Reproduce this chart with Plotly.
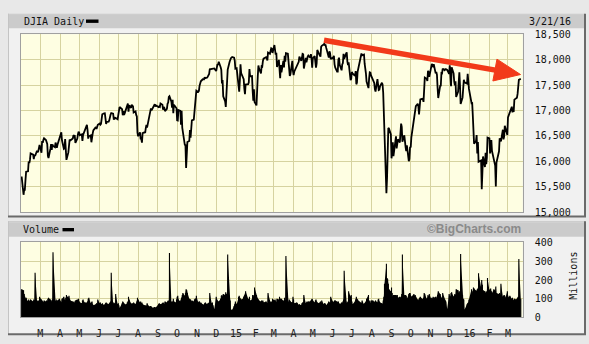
import numpy as np
import pandas as pd
import plotly.graph_objects as go

# ---------------- data ----------------
holidays = ["2014-02-17", "2014-04-18", "2014-05-26", "2014-07-04", "2014-09-01",
            "2014-11-27", "2014-12-25", "2015-01-01", "2015-01-19", "2015-02-16",
            "2015-04-03", "2015-05-25", "2015-07-03", "2015-09-07", "2015-11-26",
            "2015-12-25", "2016-01-01", "2016-01-18", "2016-02-15"]

# DJIA daily level, one sub-list per month (2014: Jan(31st only)..Dec)
price_2014 = [
    [15699],
    [15340, 15445, 15441, 15628, 15794, 15802, 15994, 15964, 16027, 16154, 16130, 16041, 16133, 16104, 16208, 16180, 16198, 16273, 16322],
    [16168, 16396, 16361, 16422, 16453, 16418, 16351, 16340, 16109, 16065, 16247, 16337, 16223, 16332, 16303, 16277, 16368, 16268, 16264, 16324, 16458],
    [16533, 16573, 16572, 16413, 16246, 16257, 16437, 16171, 16027, 16174, 16263, 16425, 16409, 16449, 16515, 16502, 16501, 16361, 16448, 16535, 16581],
    [16558, 16513, 16531, 16402, 16518, 16550, 16583, 16696, 16716, 16614, 16447, 16492, 16511, 16374, 16533, 16543, 16607, 16676, 16633, 16699, 16717],
    [16744, 16722, 16738, 16836, 16924, 16944, 16946, 16843, 16734, 16776, 16781, 16808, 16906, 16921, 16947, 16938, 16818, 16868, 16846, 16851, 16827],
    [16956, 16976, 17068, 17024, 16906, 16985, 16915, 16944, 17055, 17061, 17138, 16976, 17100, 17052, 17114, 17086, 17083, 16961, 16983, 16913, 16881, 16563],
    [16493, 16569, 16430, 16443, 16368, 16554, 16570, 16560, 16651, 16713, 16663, 16839, 16920, 16980, 17040, 17001, 17076, 17107, 17123, 17080, 17098],
    [17067, 17078, 17069, 17138, 17111, 17014, 17068, 17049, 16988, 17031, 17131, 17156, 17266, 17280, 17173, 17056, 17210, 16946, 17113, 17071, 17043],
    [16805, 16801, 17009, 16992, 16720, 16995, 16659, 16544, 16321, 16316, 15870, 16117, 16380, 16400, 16615, 16462, 16677, 16805, 16818, 17006, 16975, 17196, 17391],
    [17366, 17384, 17485, 17555, 17574, 17614, 17615, 17613, 17652, 17635, 17648, 17688, 17686, 17720, 17810, 17818, 17815, 17828, 17828],
    [17776, 17880, 17913, 17901, 17959, 17852, 17801, 17533, 17597, 17280, 17180, 17068, 17356, 17778, 17805, 17959, 18024, 18030, 18053, 18038, 17983, 17823],
]
price_2015 = [
    [17833, 17501, 17371, 17585, 17908, 17737, 17640, 17614, 17427, 17321, 17511, 17516, 17555, 17814, 17673, 17678, 17388, 17192, 17417, 17165],
    [17100, 17666, 17673, 17885, 17825, 17729, 17868, 17863, 17973, 18019, 18048, 18030, 17986, 18141, 18117, 18210, 18225, 18215, 18133],
    [18288, 18203, 18097, 18136, 17857, 17996, 17662, 17635, 17895, 17749, 17977, 17849, 18076, 17959, 18128, 18116, 17977, 17718, 17678, 17713, 17977, 17776],
    [17698, 17763, 17881, 17876, 17903, 17959, 18058, 17977, 18037, 18113, 18106, 17826, 18034, 17950, 18038, 18059, 18080, 18038, 18110, 18036, 17841],
    [18024, 18070, 17928, 17842, 17925, 18191, 18105, 18069, 18060, 18252, 18272, 18299, 18312, 18286, 18285, 18232, 18042, 18163, 18126, 18011],
    [18040, 18011, 18077, 17906, 17849, 17766, 17765, 18000, 18039, 17899, 17791, 17905, 17935, 18115, 18015, 18120, 18144, 17967, 17891, 17947, 17597, 17620],
    [17758, 17731, 17684, 17777, 17515, 17548, 17761, 17978, 18054, 18051, 18121, 18087, 18101, 17920, 17852, 17732, 17569, 17441, 17631, 17751, 17746, 17690],
    [17599, 17551, 17541, 17419, 17373, 17615, 17403, 17402, 17409, 17477, 17546, 17512, 17349, 16991, 16460, 15370, 15666, 16285, 16655, 16643, 16528],
    [16058, 16351, 16375, 16102, 16492, 16254, 16330, 16433, 16371, 16600, 16740, 16675, 16385, 16510, 16330, 16280, 16201, 16315, 16001, 16049, 16285],
    [16272, 16472, 16776, 16790, 16912, 17050, 17084, 17131, 17081, 16924, 17142, 17216, 17230, 17218, 17169, 17489, 17647, 17623, 17581, 17780, 17756, 17664],
    [17829, 17918, 17868, 17863, 17910, 17731, 17758, 17702, 17449, 17245, 17484, 17489, 17738, 17733, 17824, 17792, 17813, 17813, 17798, 17720],
    [17888, 17730, 17478, 17848, 17731, 17568, 17493, 17575, 17265, 17368, 17525, 17750, 17496, 17128, 17252, 17418, 17603, 17553, 17528, 17721, 17604, 17425],
]
price_2016 = [
    [17149, 17159, 16907, 16515, 16347, 16399, 16516, 16152, 16380, 15988, 16016, 15450, 15882, 16094, 15886, 16167, 15944, 16069, 16466],
    [16449, 16154, 16337, 16417, 16205, 16027, 16014, 15915, 15503, 15974, 16196, 16454, 16414, 16392, 16620, 16431, 16485, 16698, 16640, 16517],
    [16865, 16899, 16944, 17007, 17074, 16964, 17001, 16995, 17213, 17230, 17251, 17326, 17481, 17602, 17624],
]

# Volume in millions, same month structure
volume_2014 = [
    [150],
    [145, 125, 110, 100, 105, 85, 95, 85, 90, 95, 85, 95, 90, 240, 90, 85, 90, 85, 110],
    [95, 90, 85, 80, 90, 85, 90, 85, 100, 105, 95, 80, 90, 95, 350, 90, 85, 95, 85, 90, 100],
    [90, 85, 80, 100, 110, 95, 90, 105, 120, 105, 115, 100, 90, 85, 80, 85, 75, 90, 95, 90, 100],
    [85, 80, 75, 90, 95, 85, 80, 80, 75, 85, 100, 105, 75, 80, 85, 70, 65, 70, 75, 70, 95],
    [75, 80, 70, 70, 75, 65, 70, 75, 80, 75, 70, 75, 80, 85, 240, 70, 80, 75, 70, 125, 70],
    [75, 65, 50, 75, 85, 80, 75, 70, 70, 80, 85, 110, 95, 75, 70, 75, 70, 80, 70, 75, 85, 105],
    [95, 80, 85, 75, 80, 70, 65, 60, 65, 60, 75, 60, 55, 60, 60, 55, 50, 55, 55, 50, 55],
    [70, 75, 70, 70, 75, 80, 75, 70, 85, 80, 85, 90, 85, 345, 85, 80, 85, 100, 85, 80, 95],
    [110, 115, 95, 85, 95, 105, 120, 130, 115, 130, 150, 145, 130, 100, 95, 95, 85, 90, 85, 95, 100, 100, 115],
    [80, 85, 85, 75, 80, 70, 65, 70, 75, 80, 70, 75, 75, 80, 130, 75, 80, 65, 45],
    [110, 95, 90, 85, 85, 100, 115, 120, 110, 125, 120, 135, 125, 115, 338, 100, 90, 40, 40, 60, 70, 85],
]
volume_2015 = [
    [70, 110, 115, 105, 100, 95, 100, 110, 115, 120, 140, 100, 95, 110, 90, 95, 120, 110, 120, 160],
    [120, 105, 100, 95, 90, 85, 90, 85, 90, 80, 85, 80, 75, 130, 85, 80, 85, 80, 100],
    [90, 95, 85, 80, 100, 95, 110, 100, 95, 100, 90, 85, 105, 90, 330, 85, 80, 95, 90, 85, 80, 110],
    [95, 75, 80, 75, 70, 65, 70, 65, 75, 80, 80, 120, 75, 80, 85, 80, 85, 85, 90, 95, 100],
    [90, 80, 90, 95, 85, 80, 75, 80, 85, 75, 90, 70, 75, 75, 70, 65, 85, 80, 75, 110],
    [85, 80, 85, 90, 90, 85, 80, 85, 75, 70, 80, 75, 85, 95, 250, 85, 75, 80, 85, 140, 110, 120],
    [85, 70, 85, 95, 110, 100, 95, 85, 80, 80, 75, 90, 70, 75, 80, 85, 100, 120, 90, 85, 75, 90],
    [90, 85, 80, 85, 90, 80, 95, 100, 85, 80, 75, 70, 90, 110, 180, 288, 211, 205, 180, 150, 140],
    [160, 130, 110, 120, 120, 115, 120, 105, 110, 105, 110, 125, 337, 120, 115, 120, 115, 100, 125, 130, 130],
    [115, 110, 120, 125, 115, 120, 110, 95, 90, 100, 105, 110, 100, 95, 105, 130, 125, 100, 105, 120, 110, 125],
    [100, 105, 100, 110, 105, 110, 100, 110, 120, 140, 125, 110, 105, 95, 130, 95, 90, 85, 45, 125],
    [115, 110, 130, 135, 110, 115, 125, 120, 150, 145, 130, 140, 120, 340, 120, 100, 95, 40, 70, 75, 80, 95],
]
volume_2016 = [
    [150, 130, 140, 160, 155, 145, 140, 150, 155, 237, 160, 200, 175, 145, 140, 130, 135, 140, 211],
    [145, 150, 155, 140, 130, 150, 145, 140, 165, 130, 125, 130, 120, 180, 110, 115, 120, 115, 105, 140],
    [110, 105, 110, 115, 100, 105, 95, 90, 100, 95, 100, 105, 110, 314, 100],
]

month_labels = ["M", "A", "M", "J", "J", "A", "S", "O", "N", "D", "15", "F",
                "M", "A", "M", "J", "J", "A", "S", "O", "N", "D", "16", "F", "M"]
price_ticks = [15000, 15500, 16000, 16500, 17000, 17500, 18000, 18500]
volume_ticks = [0, 100, 200, 300, 400]
first_day, last_day = "2014-01-31", "2016-03-21"
date_label = "3/21/16"

# ---------------- build dates ----------------
hol = pd.to_datetime(holidays)


def month_dates(year, month, n):
    start = pd.Timestamp(year, month, 1)
    end = start + pd.offsets.MonthEnd(0)
    start = max(start, pd.Timestamp(first_day))
    end = min(end, pd.Timestamp(last_day))
    days = pd.bdate_range(start, end)
    days = days[~days.isin(hol)]
    if len(days) == n:
        return list(days)
    return list(pd.date_range(start, end, periods=n))


dates, closes, vol_dates, vol_vals = [], [], [], []
for year, plist, vlist in [(2014, price_2014, volume_2014),
                           (2015, price_2015, volume_2015),
                           (2016, price_2016, volume_2016)]:
    for m, (pm, vm) in enumerate(zip(plist, vlist), start=1):
        d = month_dates(year, m, len(pm))
        dates += d
        closes += pm
        vd = d if len(vm) == len(pm) else month_dates(year, m, len(vm))
        vol_dates += vd
        vol_vals += vm

# volume drawn as one vertical stick per day (plus a filled body underneath)
vx, vy = [], []
for d, v in zip(vol_dates, vol_vals):
    vx += [d, d, None]
    vy += [0, v, None]

month_starts = list(pd.date_range("2014-03-01", "2016-03-01", freq="MS"))

# ---------------- geometry helpers (pixels -> paper) ----------------
W, H = 589, 344


def px(x):
    return x / W


def py(y):
    return 1 - y / H


PLOT_L, PLOT_R = 21, 522.7
P_TOP, P_BOT = 29.3, 213.5
V_TOP, V_BOT = 244.5, 322.5

MONO = "DejaVu Sans Mono"
GRID = "#d6d3a0"
PLOTBG = "#fefee2"

fig = go.Figure()
fig.add_trace(go.Scatter(x=dates, y=closes, mode="lines",
                         line=dict(color="black", width=1.8),
                         xaxis="x", yaxis="y", showlegend=False, hoverinfo="skip"))
fig.add_trace(go.Scatter(x=vol_dates, y=vol_vals, mode="lines",
                         line=dict(color="black", width=0),
                         fill="tozeroy", fillcolor="black",
                         xaxis="x2", yaxis="y2", showlegend=False, hoverinfo="skip"))
fig.add_trace(go.Scatter(x=vx, y=vy, mode="lines",
                         line=dict(color="black", width=1.1),
                         xaxis="x2", yaxis="y2", showlegend=False, hoverinfo="skip",
                         connectgaps=False))

xrange = ["2014-01-30", "2016-03-24"]
common_x = dict(range=xrange, tickvals=month_starts, showgrid=True, gridcolor=GRID,
                gridwidth=1, zeroline=False, showline=True, linecolor="#a0a0a0",
                mirror=True, domain=[px(PLOT_L), px(PLOT_R)])

fig.update_layout(
    width=W, height=H, margin=dict(l=0, r=0, t=0, b=0),
    paper_bgcolor="#e8e8e8", plot_bgcolor=PLOTBG,
    xaxis=dict(**common_x, anchor="y", showticklabels=False, ticks=""),
    yaxis=dict(domain=[py(P_BOT), py(P_TOP)], range=[15000, 18500], side="right",
               tickvals=price_ticks, tickformat=",", showgrid=True, gridcolor=GRID,
               zeroline=False, showline=True, linecolor="#a0a0a0", mirror=True,
               ticks="outside", ticklen=9, tickcolor="rgba(0,0,0,0)",
               tickfont=dict(family=MONO, size=10, color="#111"), anchor="x"),
    xaxis2=dict(**common_x, anchor="y2", ticktext=month_labels, ticks="outside",
                ticklen=7, tickcolor="rgba(0,0,0,0)",
                tickfont=dict(family=MONO, size=10, color="#222")),
    yaxis2=dict(domain=[py(V_BOT), py(V_TOP)], range=[0, 405], side="right",
                tickvals=volume_ticks, showgrid=True, gridcolor=GRID, zeroline=False,
                showline=True, linecolor="#a0a0a0", mirror=True,
                ticks="outside", ticklen=9, tickcolor="rgba(0,0,0,0)",
                tickfont=dict(family=MONO, size=10, color="#111"), anchor="x2"),
)

shapes = []


def rect(x0, y0, x1, y1, fill, layer="below"):
    shapes.append(dict(type="rect", xref="paper", yref="paper",
                       x0=px(x0), x1=px(x1), y0=py(y1), y1=py(y0),
                       fillcolor=fill, layer=layer, line=dict(width=0)))


def hline(x0, x1, y, color, w=1.5, layer="below"):
    shapes.append(dict(type="line", xref="paper", yref="paper", x0=px(x0), x1=px(x1),
                       y0=py(y), y1=py(y), line=dict(color=color, width=w), layer=layer))


def vline(x, y0, y1, color, w=1.5, layer="below"):
    shapes.append(dict(type="line", xref="paper", yref="paper", x0=px(x), x1=px(x),
                       y0=py(y0), y1=py(y1), line=dict(color=color, width=w), layer=layer))


# panels
rect(8, 8, 585, 218, "#f1f1f1")
rect(8, 223, 585, 340, "#f1f1f1")
# plot area backgrounds (drawn above the panels, below grid)
rect(PLOT_L, P_TOP, PLOT_R, P_BOT, PLOTBG)
rect(PLOT_L, V_TOP, PLOT_R, V_BOT, PLOTBG)
# title bars
rect(9, 9, 584, 23, "#cbcbcb")
rect(9, 224, 584, 239, "#cbcbcb")
# panel bevel borders
for (t, b) in [(8, 218), (223, 340)]:
    vline(8.5, t, b, "#c4c4c4", 1)
    hline(8, 585, t + 0.5, "#c4c4c4", 1)
    vline(585, t, b, "#6a6a6a", 2)
    hline(8, 586, b, "#6a6a6a", 2)
# legend swatches
rect(86, 14, 98.5, 17.5, "black", layer="above")
rect(62.5, 230, 74, 233.5, "black", layer="above")

# red arrow
tip = np.array([520.5, 71.0])
start = np.array([324.0, 35.5])
u = (tip - start) / np.linalg.norm(tip - start)
perp = np.array([-u[1], u[0]])
base = tip - 26 * u
c1 = base + 11.5 * perp
c2 = base - 11.5 * perp
RED = "#f23a1a"
shapes.append(dict(type="line", xref="paper", yref="paper",
                   x0=px(start[0]), y0=py(start[1]), x1=px(base[0] + 2 * u[0]),
                   y1=py(base[1] + 2 * u[1]), line=dict(color=RED, width=5.5), layer="above"))
path = "M {} {} L {} {} L {} {} Z".format(px(tip[0]), py(tip[1]), px(c1[0]), py(c1[1]),
                                          px(c2[0]), py(c2[1]))
shapes.append(dict(type="path", xref="paper", yref="paper", path=path,
                   fillcolor=RED, line=dict(color=RED, width=1), layer="above"))

fig.update_layout(shapes=shapes)

ann = [
    dict(text="DJIA Daily", x=px(21.5), y=py(16), xanchor="left", yanchor="middle",
         font=dict(family=MONO, size=10, color="#111")),
    dict(text=date_label, x=px(573), y=py(16), xanchor="right", yanchor="middle",
         font=dict(family=MONO, size=10, color="#111")),
    dict(text="Volume", x=px(20.5), y=py(231.5), xanchor="left", yanchor="middle",
         font=dict(family=MONO, size=10, color="#111")),
    dict(text="<b>©BigCharts.com</b>", x=px(523), y=py(231.5), xanchor="right",
         yanchor="middle", font=dict(family="Liberation Sans", size=12, color="#8a8a8a")),
    dict(text="Millions", x=px(573.5), y=py(280), xanchor="center", yanchor="middle",
         textangle=-90, font=dict(family=MONO, size=10, color="#111")),
]
for a in ann:
    a.update(xref="paper", yref="paper", showarrow=False)
fig.update_layout(annotations=ann)

fig.write_html("out.html")
